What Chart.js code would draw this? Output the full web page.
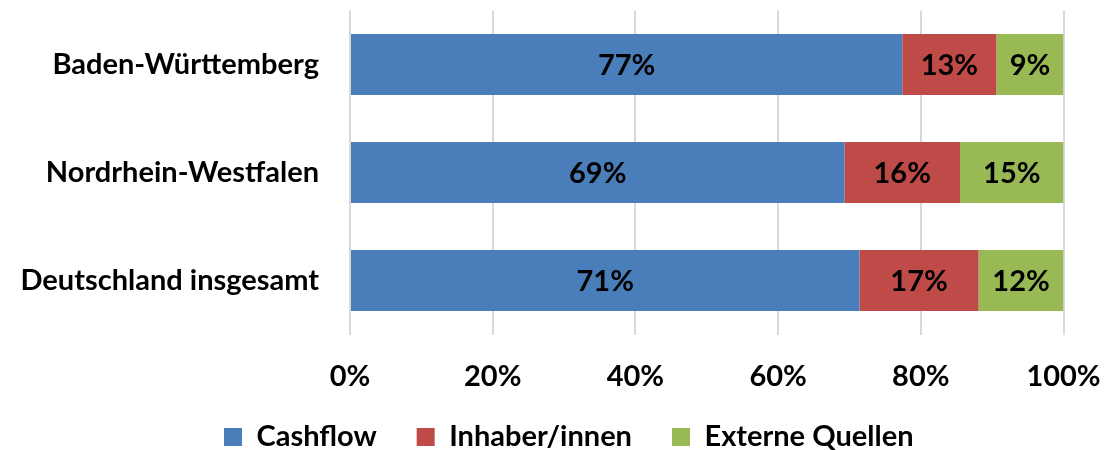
<!DOCTYPE html>
<html>
<head>
<meta charset="utf-8">
<script src="https://cdn.jsdelivr.net/npm/chart.js@4"></script>
<style>
  html, body { margin: 0; padding: 0; background: #fff; }
  #wrap { width: 1105px; height: 450px; }
</style>
</head>
<body>
<div id="wrap"><canvas id="chart" width="1105" height="450"></canvas></div>
<script>
const regions = ['Baden-Württemberg', 'Nordrhein-Westfalen', 'Deutschland insgesamt'];
const seriesNames = ['Cashflow', 'Inhaber/innen', 'Externe Quellen'];
const cashflow = [77.4, 69.3, 71.4];
const inhaber = [13.2, 16.2, 16.7];
const extern = [9.4, 14.5, 11.9];
const xTicks = [0, 20, 40, 60, 80, 100];

const colors = ['#4a7ebb', '#be4b48', '#98b954'];
const FONT = 'Lato';
const SIZE = 29;

// draws the percent in the middle of each segment
const segmentLabels = {
  id: 'segmentLabels',
  afterDatasetsDraw(chart) {
    const ctx = chart.ctx;
    ctx.save();
    ctx.font = 'bold ' + SIZE + 'px ' + FONT;
    ctx.fillStyle = '#000';
    ctx.textAlign = 'center';
    ctx.textBaseline = 'middle';
    chart.data.datasets.forEach((ds, i) => {
      chart.getDatasetMeta(i).data.forEach((bar, j) => {
        const p = bar.getCenterPoint();
        ctx.fillText(Math.round(ds.data[j]) + '%', p.x, p.y + 1);
      });
    });
    ctx.restore();
  }
};

// move the legend a bit right and up, the x axis needs the room for its labels
const legendShift = {
  id: 'legendShift',
  afterLayout(chart) {
    chart.legend.left += 37;
    chart.legend.right += 37;
    chart.legend.top -= 22;
    chart.legend.bottom -= 22;
  }
};

new Chart(document.getElementById('chart'), {
  type: 'bar',
  data: {
    labels: regions,
    datasets: [
      { label: seriesNames[0], data: cashflow, backgroundColor: colors[0] },
      { label: seriesNames[1], data: inhaber, backgroundColor: colors[1] },
      { label: seriesNames[2], data: extern, backgroundColor: colors[2] }
    ]
  },
  options: {
    indexAxis: 'y',
    responsive: false,
    animation: false,
    layout: { padding: { top: 10.5, right: 41.5, bottom: -33.5, left: 0 } },
    datasets: { bar: { categoryPercentage: 1, barPercentage: 0.565 } },
    scales: {
      x: {
        stacked: true,
        min: 0,
        max: 100,
        afterBuildTicks: s => { s.ticks = xTicks.map(v => ({ value: v })); },
        afterFit: s => { s.height = 70; s.paddingLeft = 0; s.paddingRight = 0; },
        grid: { color: '#d9d9d9', lineWidth: 2, drawTicks: false },
        border: { display: false },
        ticks: {
          padding: 24.5,
          color: '#000',
          font: { family: FONT, size: SIZE, weight: 'bold' },
          callback: v => v + '%'
        }
      },
      y: {
        stacked: true,
        afterFit: s => { s.width = 350; s.paddingTop = 0; s.paddingBottom = 0; },
        grid: { display: false, drawTicks: false },
        border: { display: false },
        ticks: {
          padding: 31,
          color: '#000',
          font: { family: FONT, size: SIZE, weight: 'bold' }
        }
      }
    },
    plugins: {
      tooltip: { enabled: false },
      legend: {
        position: 'bottom',
        labels: {
          boxWidth: 18,
          boxHeight: 18,
          padding: 40,
          color: '#000',
          font: { family: FONT, size: SIZE, weight: 'bold' }
        }
      }
    }
  },
  plugins: [segmentLabels, legendShift]
});
</script>
</body>
</html>
